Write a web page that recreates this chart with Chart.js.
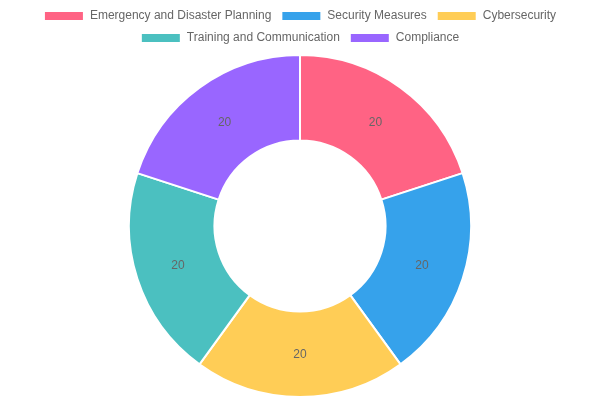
<!DOCTYPE html>
<html>
<head>
<meta charset="utf-8">
<script src="https://cdn.jsdelivr.net/npm/chart.js@4"></script>
<style>
  body { margin: 0; background: #fff; }
  #wrap { width: 600px; height: 400px; }
</style>
</head>
<body>
<div id="wrap"><canvas id="myChart"></canvas></div>
<script>
var categories = ["Emergency and Disaster Planning", "Security Measures", "Cybersecurity", "Training and Communication", "Compliance"];
var values = [20, 20, 20, 20, 20];
var sliceColors = ["#ff6384", "#36a2eb", "#ffcd56", "#4bc0c0", "#9966ff"];

// draw the value in the middle of each slice
var sliceLabels = {
    id: "sliceLabels",
    afterDatasetsDraw: function (chart) {
        var ctx = chart.ctx;
        var meta = chart.getDatasetMeta(0);
        ctx.save();
        ctx.font = "12px 'Liberation Sans', Arial, sans-serif";
        ctx.fillStyle = "#666";
        ctx.textAlign = "center";
        ctx.textBaseline = "middle";
        meta.data.forEach(function (arc, i) {
            var p = arc.getCenterPoint();
            ctx.fillText(values[i], p.x, p.y);
        });
        ctx.restore();
    }
};

Chart.defaults.font.family = "'Liberation Sans', Arial, sans-serif";

new Chart("myChart", {
    type: "doughnut",
    data: {
        labels: categories,
        datasets: [{
            data: values,
            backgroundColor: sliceColors,
            borderColor: "#fff",
            borderWidth: 2
        }]
    },
    options: {
        responsive: true,
        maintainAspectRatio: false,
        animation: false,
        cutout: "50%",
        layout: { padding: { bottom: 2 } },
        plugins: {
            legend: {
                position: "top",
                labels: { color: "#666", font: { size: 12 }, boxWidth: 40, boxHeight: 10 }
            },
            tooltip: { enabled: false }
        }
    },
    plugins: [sliceLabels]
});
</script>
</body>
</html>
